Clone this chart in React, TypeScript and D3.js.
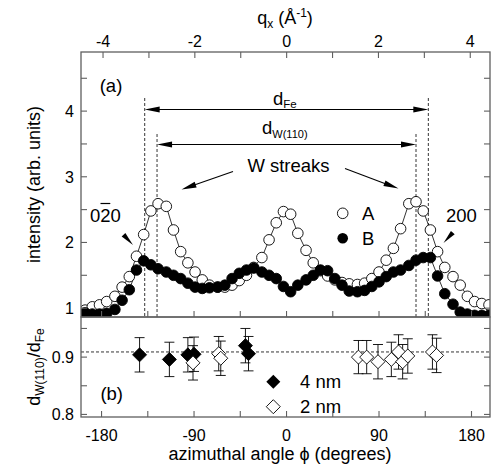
import React from "react";
import * as d3 from "d3";

// azimuthal angle grid of the line scans (degrees)
const phi = [-196, -189, -182, -175, -167, -160, -153, -146, -139, -132, -125, -117, -110, -103, -96, -89, -82, -75, -67, -60, -53, -46, -39, -32, -24, -17, -10, -3, 4, 11, 19, 26, 33, 40, 47, 54, 61, 69, 76, 83, 90, 97, 104, 111, 119, 126, 133, 140, 147, 154, 162, 169, 176, 183, 190, 197];
// series A (open circles)
const intensityA = [0.97, 1.02, 1.05, 1.1, 1.18, 1.32, 1.48, 1.79, 2.12, 2.48, 2.59, 2.55, 2.19, 1.86, 1.69, 1.55, 1.43, 1.35, 1.32, 1.32, 1.35, 1.42, 1.5, 1.62, 1.77, 2.04, 2.3, 2.47, 2.43, 2.14, 1.88, 1.69, 1.57, 1.49, 1.43, 1.39, 1.37, 1.36, 1.38, 1.45, 1.55, 1.73, 1.91, 2.21, 2.59, 2.62, 2.48, 2.19, 1.86, 1.62, 1.48, 1.35, 1.18, 1.1, 1.07, 1.05];
// series B (filled circles)
const intensityB = [0.93, 0.91, 0.91, 0.92, 0.98, 1.12, 1.28, 1.58, 1.72, 1.66, 1.6, 1.55, 1.5, 1.45, 1.38, 1.32, 1.3, 1.31, 1.32, 1.35, 1.45, 1.53, 1.58, 1.61, 1.55, 1.5, 1.45, 1.33, 1.25, 1.35, 1.43, 1.5, 1.58, 1.57, 1.45, 1.35, 1.26, 1.25, 1.27, 1.33, 1.4, 1.48, 1.55, 1.58, 1.65, 1.73, 1.77, 1.77, 1.49, 1.22, 1.06, 0.94, 0.91, 0.89, 0.89, 0.89];

// lower panel: d_W(110)/d_Fe
const phi4nm = [-143, -114, -96, -90, -40, -37];
const ratio4nm = [0.904, 0.896, 0.904, 0.905, 0.92, 0.906];
const err4nm = [0.03, 0.03, 0.03, 0.03, 0.03, 0.03];
const phi2nm = [-91, -66, -64, 70, 78, 89, 102, 109, 113, 118, 142, 146];
const ratio2nm = [0.89, 0.906, 0.898, 0.9, 0.9, 0.892, 0.896, 0.909, 0.892, 0.902, 0.909, 0.903];
const err2nm = [0.03, 0.03, 0.03, 0.029, 0.029, 0.03, 0.03, 0.03, 0.03, 0.03, 0.03, 0.03];

const phiTicks = [-180, -135, -90, -45, 0, 45, 90, 135, 180];
const phiLabels = [-180, -90, 0, 90, 180];
const qTicks = [-4, -3, -2, -1, 0, 1, 2, 3, 4];
const qLabels = [-4, -2, 0, 2, 4];
const intTicks = [1, 1.5, 2, 2.5, 3, 3.5, 4, 4.5];
const intLabels = [1, 2, 3, 4];
const ratioTicks = [0.8, 0.85, 0.9, 0.95];
const ratioLabels = [0.8, 0.9];

const dFeAngle = 138;
const dWAngle = 126;
const ratioMean = 0.909;

const FONT = "'Liberation Sans', Arial, Helvetica, sans-serif";
const AX = "#5f5f5f";

export default function App() {
  const L = 81, R = 490, T = 52, MID = 317, B = 417;
  const x = d3.scaleLinear().domain([-200, 198]).range([L, R]);
  const q = d3.scaleLinear().domain([-4.48, 4.43]).range([L, R]);
  const yT = d3.scaleLinear().domain([0.865, 4.9]).range([MID, T]);
  const yB = d3.scaleLinear().domain([0.7955, 0.97]).range([B, MID]);
  const tk = 6;
  const r = 5.3;

  const lineA = d3.line<number>().x((_, i) => x(phi[i])).y((d) => yT(d));
  const lineB = d3.line<number>().x((_, i) => x(phi[i])).y((d) => yT(d));

  const diamond = (cx: number, cy: number, s: number) =>
    `M${cx},${cy - s}L${cx + s},${cy}L${cx},${cy + s}L${cx - s},${cy}Z`;

  const arrowHead = (tx: number, ty: number, fx: number, fy: number, len = 15, hw = 3) => {
    const ang = Math.atan2(ty - fy, tx - fx);
    const bx = tx - len * Math.cos(ang), by = ty - len * Math.sin(ang);
    const px = -Math.sin(ang) * hw, py = Math.cos(ang) * hw;
    return `M${tx},${ty}L${bx + px},${by + py}L${bx - px},${by - py}Z`;
  };

  const errBars = (ps: number[], vs: number[], es: number[]) =>
    ps.map((p, i) => {
      const cx = x(p), y1 = yB(vs[i] + es[i]), y2 = yB(vs[i] - es[i]);
      return (
        <g key={i} stroke="#000" strokeWidth={0.9}>
          <line x1={cx} x2={cx} y1={y1} y2={y2} />
          <line x1={cx - 5} x2={cx + 5} y1={y1} y2={y1} />
          <line x1={cx - 5} x2={cx + 5} y1={y2} y2={y2} />
        </g>
      );
    });

  return (
    <svg width={494} height={476} style={{ position: "absolute", left: 0, top: 0 }} fontFamily={FONT}>
      <defs>
        <clipPath id="upper">
          <rect x={L} y={T} width={R - L} height={MID - T} />
        </clipPath>
        <clipPath id="lower">
          <rect x={L} y={MID} width={R - L} height={B - MID} />
        </clipPath>
      </defs>
      <rect x={0} y={0} width={494} height={476} fill="#fff" />

      {/* upper panel dashed verticals */}
      <g stroke="#000" strokeWidth={0.8} strokeDasharray="3,2">
        <line x1={x(-dFeAngle)} x2={x(-dFeAngle)} y1={98} y2={MID} />
        <line x1={x(dFeAngle)} x2={x(dFeAngle)} y1={98} y2={MID} />
        <line x1={x(-dWAngle)} x2={x(-dWAngle)} y1={134} y2={MID} />
        <line x1={x(dWAngle)} x2={x(dWAngle)} y1={134} y2={MID} />
      </g>

      {/* data upper */}
      <g clipPath="url(#upper)">
        <path d={lineA(intensityA) || ""} fill="none" stroke="#000" strokeWidth={0.8} />
        <path d={lineB(intensityB) || ""} fill="none" stroke="#000" strokeWidth={0.8} />
        {intensityA.map((v, i) => (
          <circle key={"a" + i} cx={x(phi[i])} cy={yT(v)} r={r} fill="#fff" stroke="#000" strokeWidth={0.9} />
        ))}
        {intensityB.map((v, i) => (
          <circle key={"b" + i} cx={x(phi[i])} cy={yT(v)} r={r} fill="#000" stroke="#000" strokeWidth={0.9} />
        ))}
      </g>

      {/* d arrows */}
      <g stroke="#000" strokeWidth={1.1}>
        <line x1={x(-dFeAngle) + 10} x2={x(dFeAngle) - 10} y1={109.5} y2={109.5} />
        <line x1={x(-dWAngle) + 10} x2={x(dWAngle) - 10} y1={144.5} y2={144.5} />
        <line x1={233} y1={171.5} x2={190} y2={186.5} />
        <line x1={345} y1={168.5} x2={390} y2={185.5} />
      </g>
      <g fill="#000">
        <path d={arrowHead(x(-dFeAngle), 109.5, x(0), 109.5)} />
        <path d={arrowHead(x(dFeAngle), 109.5, x(0), 109.5)} />
        <path d={arrowHead(x(-dWAngle), 144.5, x(0), 144.5)} />
        <path d={arrowHead(x(dWAngle), 144.5, x(0), 144.5)} />
        <path d={arrowHead(181.5, 189.5, 233, 171.5)} />
        <path d={arrowHead(398.5, 188.5, 345, 168.5)} />
        <path d={arrowHead(133, 245, 121, 232, 14, 2.5)} />
        <path d={arrowHead(443.5, 243, 456, 229, 14, 2.5)} />
      </g>

      {/* upper annotations */}
      <g fontSize={18.5} fill="#000">
        <text x={111} y={91.5} textAnchor="middle">(a)</text>
        <text x={273} y={105}>d<tspan fontSize={11.5} dy={3}>Fe</tspan></text>
        <text x={262} y={133.5}>d<tspan fontSize={11} dy={4}>W(110)</tspan></text>
        <text x={288.5} y={171.5} textAnchor="middle">W streaks</text>
        <text x={90} y={221.5}>0</text>
        <text x={100.3} y={221.5}>2</text>
        <text x={110.6} y={221.5}>0</text>
        <text x={446} y={221.5}>200</text>
        <text x={362} y={219.5}>A</text>
        <text x={362} y={244.8}>B</text>
      </g>
      <line x1={100.5} x2={110.3} y1={203.5} y2={203.5} stroke="#000" strokeWidth={1.2} />
      <circle cx={342.7} cy={213.3} r={r} fill="#fff" stroke="#000" strokeWidth={0.9} />
      <circle cx={342.7} cy={238.3} r={r} fill="#000" />

      {/* lower panel */}
      <line x1={L} x2={R} y1={yB(ratioMean)} y2={yB(ratioMean)} stroke="#000" strokeWidth={0.8} strokeDasharray="3,2" />
      <g clipPath="url(#lower)">
        {errBars(phi4nm, ratio4nm, err4nm)}
        {errBars(phi2nm, ratio2nm, err2nm)}
        {ratio4nm.map((v, i) => (
          <path key={"f" + i} d={diamond(x(phi4nm[i]), yB(v), 7)} fill="#000" stroke="#000" strokeWidth={0.9} />
        ))}
        {ratio2nm.map((v, i) => (
          <path key={"o" + i} d={diamond(x(phi2nm[i]), yB(v), 7)} fill="#fff" stroke="#000" strokeWidth={0.9} />
        ))}
      </g>
      <path d={diamond(273.3, 381.7, 7)} fill="#000" />
      <path d={diamond(273.3, 406.7, 7)} fill="#fff" stroke="#000" strokeWidth={0.9} />
      <g fontSize={18.5} fill="#000">
        <text x={300} y={388}>4 nm</text>
        <text x={300} y={413}>2 nm</text>
        <text x={111.7} y={399.5} textAnchor="middle">(b)</text>
      </g>

      {/* frames */}
      <g fill="none" stroke={AX} strokeWidth={1.3}>
        <rect x={L} y={T} width={R - L} height={MID - T} />
        <rect x={L} y={MID} width={R - L} height={B - MID} />
      </g>

      {/* ticks */}
      <g stroke={AX} strokeWidth={1.1}>
        {qTicks.map((t) => (
          <line key={"q" + t} x1={q(t)} x2={q(t)} y1={T} y2={T + tk} />
        ))}
        {phiTicks.map((t) => (
          <g key={"p" + t}>
            <line x1={x(t)} x2={x(t)} y1={MID} y2={MID - tk} />
            <line x1={x(t)} x2={x(t)} y1={B} y2={B - tk} />
          </g>
        ))}
        {intTicks.map((t) => (
          <g key={"i" + t}>
            <line x1={L} x2={L + tk} y1={yT(t)} y2={yT(t)} />
            <line x1={R} x2={R - tk} y1={yT(t)} y2={yT(t)} />
          </g>
        ))}
        {ratioTicks.map((t) => (
          <g key={"r" + t}>
            <line x1={L} x2={L + tk} y1={yB(t)} y2={yB(t)} />
            <line x1={R} x2={R - tk} y1={yB(t)} y2={yB(t)} />
          </g>
        ))}
      </g>

      {/* tick labels */}
      <g fontSize={16} fill="#000">
        {qLabels.map((t) => (
          <text key={"ql" + t} x={q(t)} y={46.5} textAnchor="middle">{t}</text>
        ))}
        {phiLabels.map((t) => (
          <text key={"pl" + t} x={x(t)} y={441} textAnchor="middle">{t}</text>
        ))}
        {intLabels.map((t) => (
          <text key={"il" + t} x={74} y={yT(t) + 6} textAnchor="end">{t}</text>
        ))}
        {ratioLabels.map((t) => (
          <text key={"rl" + t} x={74} y={yB(t) + 6} textAnchor="end">{d3.format(".1f")(t)}</text>
        ))}
      </g>

      {/* axis titles */}
      <g fontSize={18} fill="#000">
        <text x={285} y={24} textAnchor="middle">
          q<tspan fontSize={12} dy={4}>x</tspan>
          <tspan dy={-4}> (Å</tspan>
          <tspan fontSize={12} dy={-7}>-1</tspan>
          <tspan dy={7}>)</tspan>
        </text>
        <text x={280} y={460} textAnchor="middle">azimuthal angle ϕ (degrees)</text>
        <text transform={`translate(40,${(T + MID) / 2}) rotate(-90)`} textAnchor="middle">
          intensity (arb. units)
        </text>
        <text transform={`translate(40,${(MID + B) / 2}) rotate(-90)`} textAnchor="middle">
          d<tspan fontSize={12} dy={4}>W(110)</tspan>
          <tspan dy={-4}>/d</tspan>
          <tspan fontSize={12} dy={4}>Fe</tspan>
        </text>
      </g>
    </svg>
  );
}
